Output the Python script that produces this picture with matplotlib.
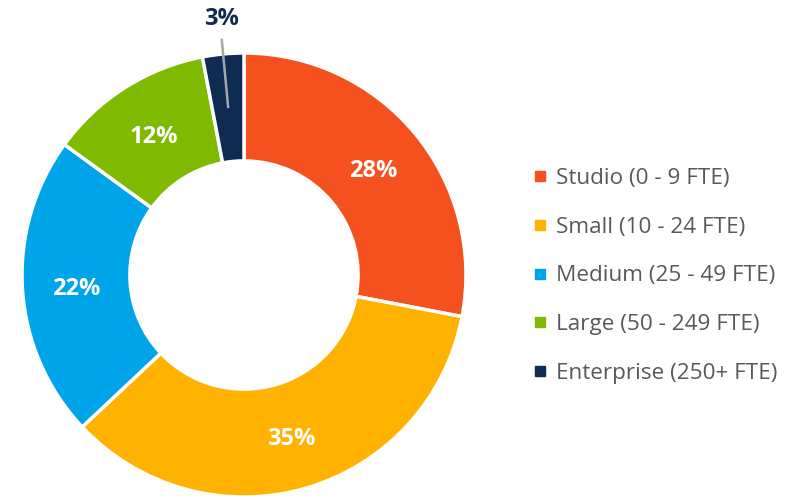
import numpy as np
import matplotlib.pyplot as plt
from matplotlib.lines import Line2D

plt.rcParams['font.family'] = ['Open Sans', 'DejaVu Sans']

labels = ['Studio (0 - 9 FTE)', 'Small (10 - 24 FTE)', 'Medium (25 - 49 FTE)',
          'Large (50 - 249 FTE)', 'Enterprise (250+ FTE)']
shares = [28, 35, 22, 12, 3]
colors = ['#F4511E', '#FFB300', '#00A4E8', '#7FBA00', '#0E2B52']

W, H = 792, 496
fig = plt.figure(figsize=(W / 100, H / 100), dpi=100)

# square axes holding the ring, radius 222 px around (244, 275)
cx, cy, R = 244, 275, 222
ax = fig.add_axes([(cx - R) / W, (H - cy - R) / H, 2 * R / W, 2 * R / H])

wedges, _ = ax.pie(shares, colors=colors, startangle=90, counterclock=False,
                   radius=1, wedgeprops=dict(width=0.486, edgecolor='white',
                                             linewidth=2.5))
ax.set_xlim(-1, 1)
ax.set_ylim(-1, 1)
ax.set_aspect('equal')
ax.axis('off')

mid_r = 0.755
for w, v in zip(wedges, shares):
    ang = np.deg2rad((w.theta1 + w.theta2) / 2)
    ux, uy = np.cos(ang), np.sin(ang)
    if v >= 5:
        ax.text(mid_r * ux, mid_r * uy - 0.015, f'{v}%', ha='center', va='center',
                color='white', fontsize=17, fontweight='bold')
    else:
        # small slice: label outside with a leader line
        ax.plot([mid_r * ux, 1.07 * ux], [mid_r * uy, 1.07 * uy],
                color='#A6A6A6', lw=1.8, solid_capstyle='butt', clip_on=False)
        ax.text(1.17 * ux + 0.01, 1.16 * uy, f'{v}%', ha='center', va='center',
                color=colors[-1], fontsize=17, fontweight='bold')

handles = [Line2D([], [], marker='s', ls='', markersize=7.5,
                  markerfacecolor=c, markeredgecolor=c) for c in colors]
fig.legend(handles, labels, loc='center left', bbox_to_anchor=(514 / W, 1 - 276 / H),
           frameon=False, fontsize=16.2, labelcolor='#595959',
           handlelength=0.5, handletextpad=0.45, labelspacing=1.23)

fig.savefig('out.png', dpi=100)
